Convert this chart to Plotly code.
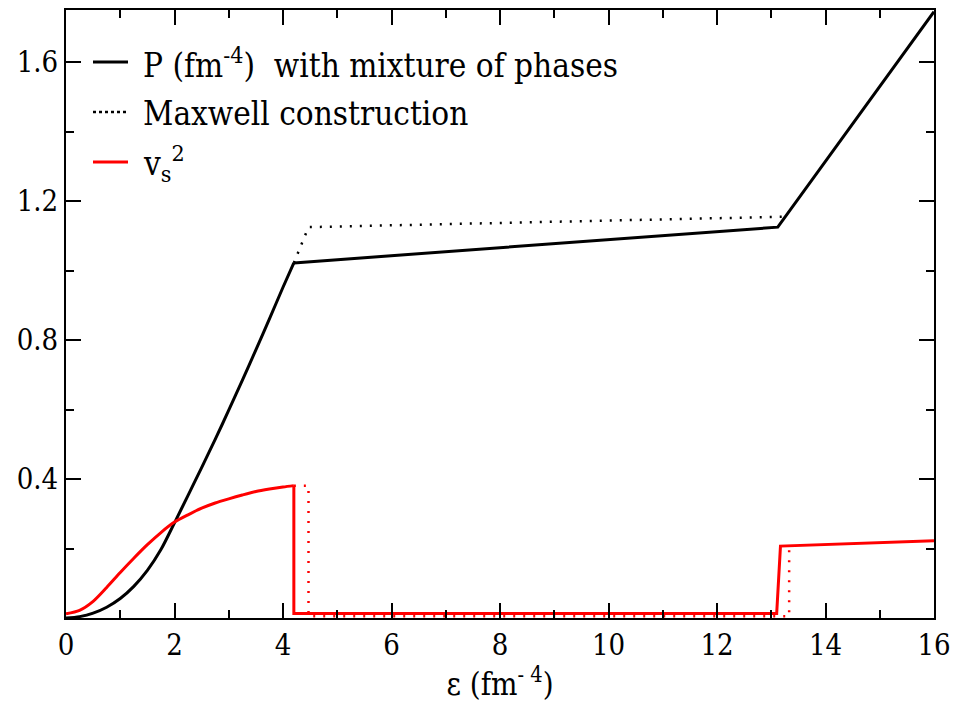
import plotly.graph_objects as go

# ---- data ----
eps_P_curve = [0, 0.25, 0.5, 0.75, 1.0, 1.25, 1.5, 1.75, 2.0, 2.25, 2.5, 2.75,
               3.0, 3.25, 3.5, 3.75, 4.0, 4.2]
P_curve = [0, 0.004, 0.014, 0.031, 0.056, 0.091, 0.137, 0.197, 0.274, 0.353,
           0.433, 0.514, 0.598, 0.684, 0.772, 0.861, 0.952, 1.022]
eps_P_lin = [4.2, 13.12, 16.0]
P_lin = [1.022, 1.125, 1.745]

eps_max = [4.2, 4.47, 13.26]
P_max = [1.022, 1.125, 1.155]

eps_vs_curve = [0, 0.25, 0.5, 0.75, 1.0, 1.25, 1.5, 1.75, 2.0, 2.25, 2.5, 2.75,
                3.0, 3.25, 3.5, 3.75, 4.0, 4.2]
vs2_curve = [0.012, 0.022, 0.048, 0.088, 0.131, 0.172, 0.211, 0.246, 0.276, 0.297,
             0.316, 0.331, 0.343, 0.354, 0.364, 0.371, 0.377, 0.381]
eps_vs_lin = [4.2, 4.2, 13.1, 13.17, 16.0]
vs2_lin = [0.381, 0.013, 0.013, 0.207, 0.222]

eps_vs_max = [4.2, 4.47, 4.47, 13.33, 13.33]
vs2_max = [0.381, 0.381, 0.005, 0.005, 0.208]

x_ticks = [0, 2, 4, 6, 8, 10, 12, 14, 16]
y_ticks = [0.4, 0.8, 1.2, 1.6]
y_ticklabels = ["0.4", "0.8", "1.2", "1.6"]

legend_labels = ["P (fm<sup>-4</sup>)  with mixture of phases",
                 "Maxwell construction",
                 "v<sub>s</sub><sup>2</sup>"]

FONT = "DejaVu Serif Condensed, DejaVu Serif"
DOT = "2px,8px"

fig = go.Figure()
fig.add_trace(go.Scatter(x=eps_max, y=P_max, mode="lines",
                         line=dict(color="black", width=2.5, dash=DOT),
                         showlegend=False, hoverinfo="skip"))
fig.add_trace(go.Scatter(x=eps_P_curve, y=P_curve, mode="lines",
                         line=dict(color="black", width=3, shape="spline",
                                   smoothing=0.8),
                         showlegend=False))
fig.add_trace(go.Scatter(x=eps_P_lin, y=P_lin, mode="lines",
                         line=dict(color="black", width=3),
                         showlegend=False))
fig.add_trace(go.Scatter(x=eps_vs_max, y=vs2_max, mode="lines",
                         line=dict(color="red", width=2.5, dash=DOT),
                         showlegend=False, hoverinfo="skip"))
fig.add_trace(go.Scatter(x=eps_vs_curve, y=vs2_curve, mode="lines",
                         line=dict(color="red", width=3, shape="spline",
                                   smoothing=0.8),
                         showlegend=False))
fig.add_trace(go.Scatter(x=eps_vs_lin, y=vs2_lin, mode="lines",
                         line=dict(color="red", width=3),
                         showlegend=False))

# manual legend (paper coordinates of plot area)
L, R, T, B = 66, 934, 10, 618
def px(xp):
    return (xp - L) / (R - L)
def py(yp):
    return (B - yp) / (B - T)

rows = [62, 112, 162]
styles = [dict(color="black", width=3),
          dict(color="black", width=2.5, dash="dot"),
          dict(color="red", width=3)]
for yrow, st, lab in zip(rows, styles, legend_labels):
    fig.add_shape(type="line", xref="paper", yref="paper",
                  x0=px(93), x1=px(128), y0=py(yrow), y1=py(yrow),
                  line=st)
    fig.add_annotation(xref="paper", yref="paper", x=px(141), y=py(yrow + 1),
                       xanchor="left", yanchor="middle", showarrow=False,
                       text=lab, font=dict(family=FONT, size=33, color="black"))

axis_common = dict(showline=True, linecolor="black", linewidth=2,
                   mirror="allticks", ticks="inside", ticklen=15,
                   tickwidth=1.5, tickcolor="black", showgrid=False,
                   zeroline=False, automargin=False,
                   tickfont=dict(family=FONT, size=29, color="black"))

fig.update_xaxes(range=[0, 16], tickmode="array", tickvals=x_ticks,
                 minor=dict(ticks="inside", ticklen=8, tickwidth=1.5,
                            tickcolor="black", dtick=1, tick0=0, showgrid=False),
                 title=dict(text="ε (fm<sup>- 4</sup>)",
                            font=dict(family=FONT, size=31, color="black"),
                            standoff=7),
                 **axis_common)
fig.update_yaxes(range=[0, 1.75], tickmode="array", tickvals=y_ticks,
                 ticktext=y_ticklabels,
                 minor=dict(ticks="inside", ticklen=8, tickwidth=1.5,
                            tickcolor="black", dtick=0.2, tick0=0, showgrid=False),
                 **axis_common)

fig.update_layout(width=955, height=702,
                  margin=dict(l=L, r=955 - R, t=T, b=702 - B),
                  plot_bgcolor="white", paper_bgcolor="white",
                  font=dict(family=FONT),
                  showlegend=False)

fig.write_html("out.html")
